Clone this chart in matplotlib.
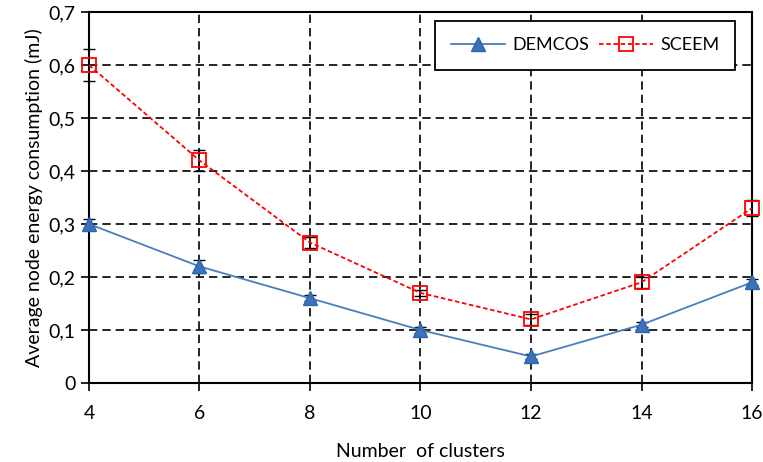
import matplotlib.pyplot as plt
from matplotlib.ticker import FuncFormatter

clusters = [4, 6, 8, 10, 12, 14, 16]
demcos = [0.30, 0.22, 0.16, 0.10, 0.05, 0.11, 0.19]
demcos_err = [0.010, 0.012, 0.006, 0.005, 0.004, 0.005, 0.006]
sceem = [0.60, 0.42, 0.265, 0.17, 0.12, 0.19, 0.33]
sceem_err = [0.030, 0.020, 0.010, 0.005, 0.010, 0.010, 0.015]

plt.rcParams['font.family'] = ['Lato', 'DejaVu Sans']

fig = plt.figure(figsize=(7.63, 4.62), dpi=100)
ax = fig.add_axes([0.1166, 0.171, 0.869, 0.803])

# error bars first, then lines/markers on top
ax.errorbar(clusters, demcos, yerr=demcos_err, fmt='none', ecolor='black',
            elinewidth=1.2, capsize=4, zorder=3, clip_on=False)
ax.errorbar(clusters, sceem, yerr=sceem_err, fmt='none', ecolor='black',
            elinewidth=1.2, capsize=4, zorder=3, clip_on=False)

ax.plot(clusters, demcos, color='#4a7ebb', lw=1.3, marker='^', ms=10,
        mfc='#3d72b8', mec='#2a67b0', label='DEMCOS', zorder=4, clip_on=False)
ax.plot(clusters, sceem, color='#ff0000', lw=1.3, linestyle=(0, (2.5, 1.5)),
        marker='s', ms=10, mfc='none', mec='#ff0000', mew=1.3,
        label='SCEEM', zorder=4, clip_on=False)

ax.set_xlim(4, 16)
ax.set_ylim(0, 0.7)
ax.set_xticks(clusters)
ax.set_yticks([0, 0.1, 0.2, 0.3, 0.4, 0.5, 0.6, 0.7])
ax.yaxis.set_major_formatter(FuncFormatter(lambda v, p: '0' if v == 0 else f'{v:.1f}'.replace('.', ',')))
ax.tick_params(axis='both', labelsize=14, direction='out', length=6, width=1.2)
ax.tick_params(axis='x', pad=10)

ax.grid(True, color='black', linestyle=(0, (5, 3)), lw=1.2)
for s in ax.spines.values():
    s.set_linewidth(1.5)

ax.set_xlabel('Number  of clusters', fontsize=14, labelpad=15)
ax.set_ylabel('Average node energy consumption (mJ)', fontsize=14)

leg = ax.legend(loc='upper right', bbox_to_anchor=(0.983, 0.99), ncol=2, fontsize=13,
                frameon=True, fancybox=False, edgecolor='black', framealpha=1,
                borderpad=0.9, handlelength=3.0, columnspacing=0.5, handletextpad=0.4,
                borderaxespad=0.3)
leg.get_frame().set_linewidth(1.3)
leg.set_zorder(5)

fig.savefig('out.png', dpi=100)
